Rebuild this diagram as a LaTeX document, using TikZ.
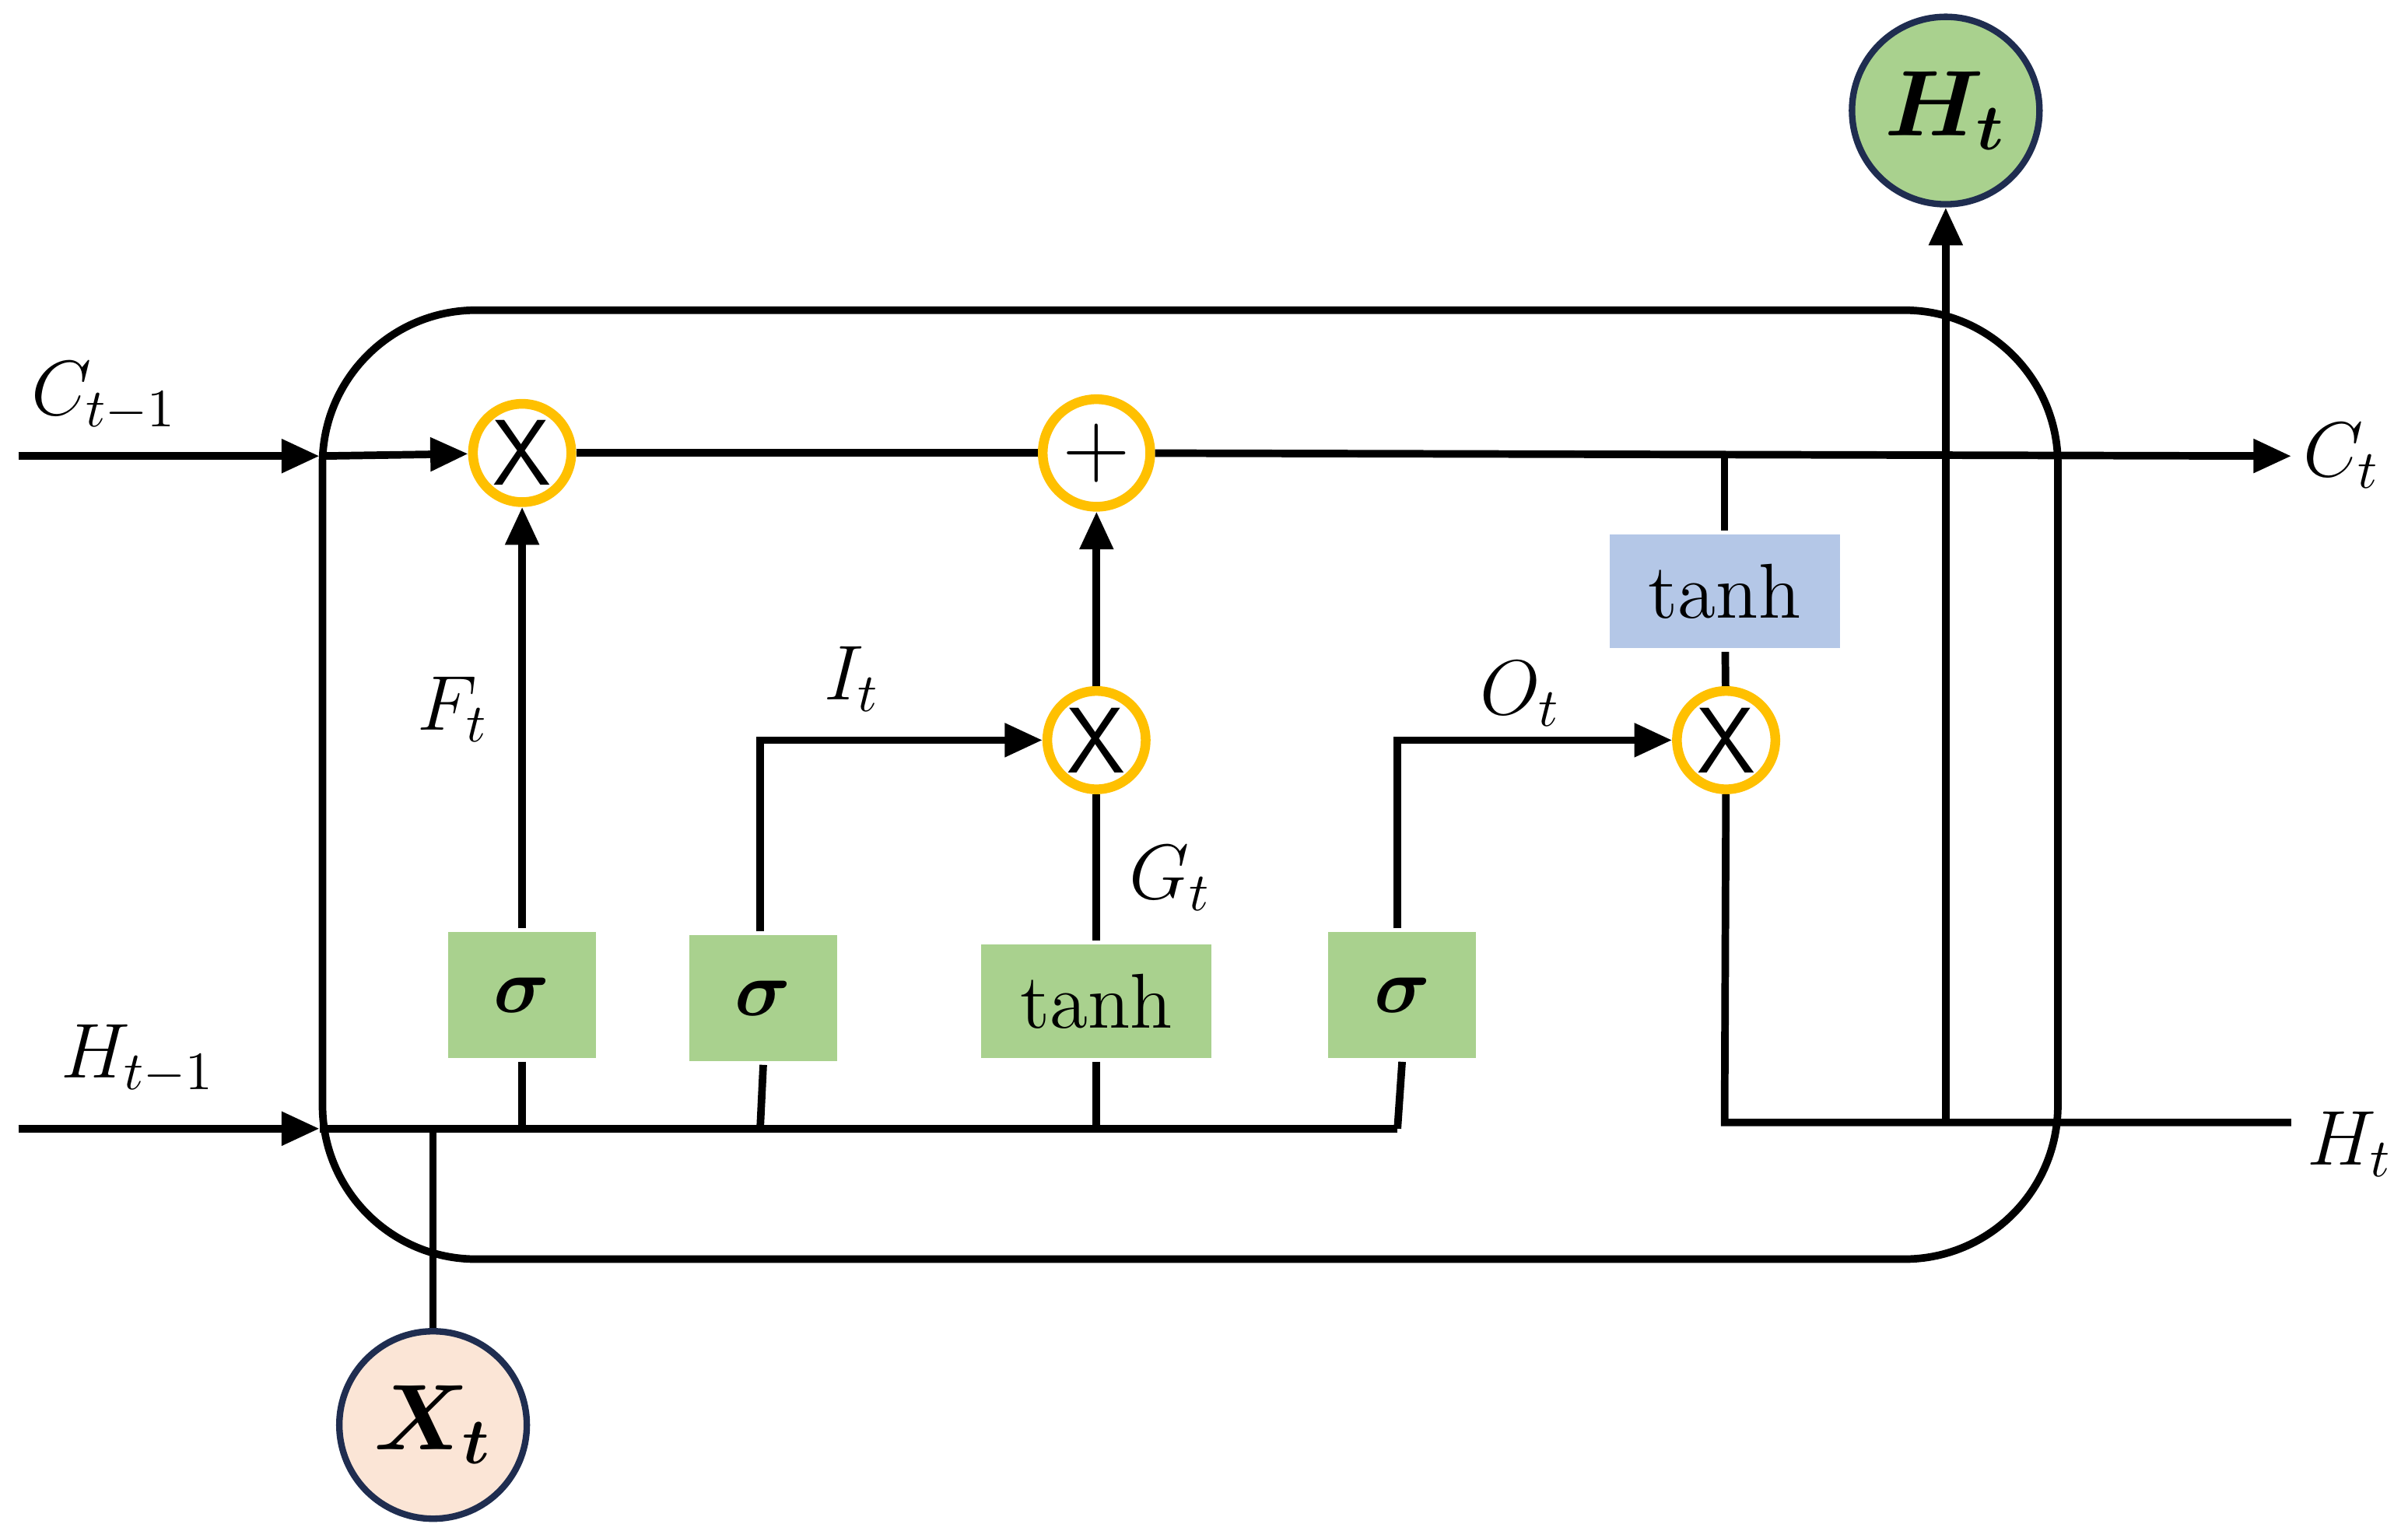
\documentclass[tikz,border=0pt]{standalone}
\usepackage{bm}
\usetikzlibrary{arrows.meta}
\definecolor{gbox}{HTML}{A9D18E}
\definecolor{bbox}{HTML}{B4C7E7}
\definecolor{ring}{HTML}{FFC000}
\definecolor{navy}{HTML}{1F2D50}
\definecolor{peach}{HTML}{FBE5D6}
\begin{document}
\begin{tikzpicture}[x=0.01cm,y=-0.01cm,line width=1.4pt,
    >={Triangle[length=7pt,width=6pt]},
    op/.style={circle,draw=ring,line width=1.8pt,fill=white,minimum size=0.64cm,inner sep=0pt,font=\sffamily\LARGE},
    gate/.style={fill=gbox,minimum width=0.96cm,minimum height=0.82cm,inner sep=0pt,font=\Large},
    wbox/.style={minimum width=1.5cm,minimum height=0.74cm,inner sep=0pt,font=\Large},
    io/.style={circle,draw=navy,line width=1.2pt,minimum size=1.22cm,inner sep=0pt,font=\LARGE},
    lab/.style={font=\Large}]
\useasboundingbox (0,0) rectangle (1568,997);
\draw[rounded corners=1cm] (210,202) rectangle (1340,820);
% nodes
\node[op] (x1) at (340,295) {X};
\node[op,minimum size=0.7cm] (pl) at (714,295) {+};
\node[op] (x2) at (714,482) {X};
\node[op] (x3) at (1124,482) {X};
\node[gate] (s1) at (340,648) {$\bm{\sigma}$};
\node[gate] (s2) at (497,650) {$\bm{\sigma}$};
\node[wbox,fill=gbox] (tg) at (714,652) {tanh};
\node[gate] (s4) at (913,648) {$\bm{\sigma}$};
\node[wbox,fill=bbox] (tb) at (1123,385) {tanh};
\node[io,fill=peach] (xt) at (282,928) {$\bm{X_t}$};
\node[io,fill=gbox] (ht) at (1267,72) {$\bm{H_t}$};
\coordinate (cin) at (12,297);
\coordinate (cb) at (208,297);
\coordinate (cout) at (1492,297);
\coordinate (hin) at (12,735);
\coordinate (hb) at (208,735);
\coordinate (hend) at (910,735);
\coordinate (hout) at (1492,731);
\coordinate (hc) at (1123,731);
% cell state
\draw[->] (cin) -- (cb);
\draw[->] (cb) -- (x1);
\draw (x1) -- (pl);
\draw[->] (pl) -- (cout);
\draw (1123,297) -- (tb.north);
\draw (tb) -- (x3);
% hidden input
\draw[->] (hin) -- (hb);
\draw (hb) -- (hend);
\draw (xt) -- (282,735);
\draw (s1) -- (340,735);
\draw (s2.south) -- (495,735);
\draw (tg) -- (714,735);
\draw (s4.south) -- (910,735);
% gates
\draw[->] (s1) -- (x1);
\draw[->] (s2.north -| 495,0) |- (x2);
\draw (tg) -- (x2);
\draw[->] (x2) -- (pl);
\draw[->] (s4.north -| 910,0) |- (x3);
\draw (x3) -- (hc) -- (hout);
\draw[->] (1267,731) -- (ht);
% labels
\node[lab] at (68,258) {$C_{t-1}$};
\node[lab] at (90,690) {$H_{t-1}$};
\node[lab] at (1525,297) {$C_t$};
\node[lab] at (1530,745) {$H_t$};
\node[lab] at (295,462) {$F_t$};
\node[lab] at (555,442) {$I_t$};
\node[lab] at (762,572) {$G_t$};
\node[lab] at (990,452) {$O_t$};
\end{tikzpicture}
\end{document}
